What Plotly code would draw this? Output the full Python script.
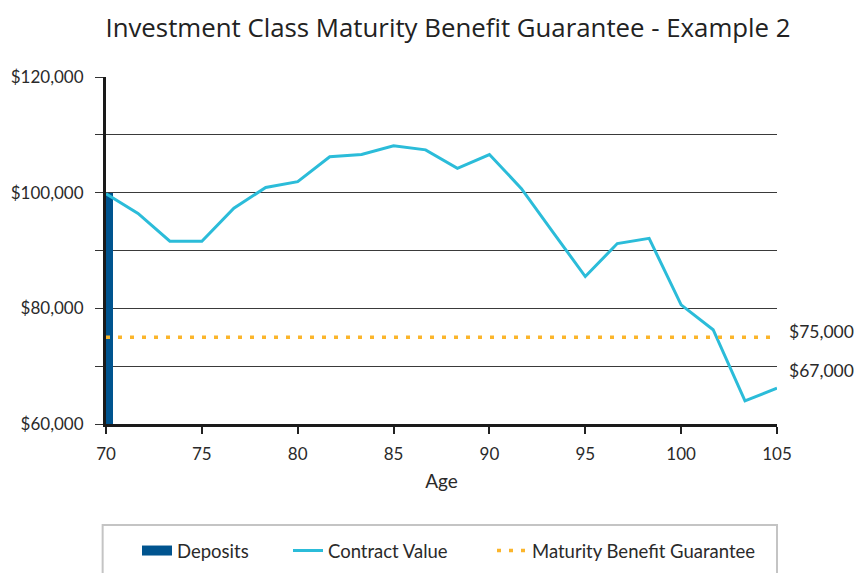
import plotly.graph_objects as go

# ---- data ----
ages = [70, 71.67, 73.33, 75, 76.67, 78.33, 80, 81.67, 83.33, 85, 86.67,
        88.33, 90, 91.67, 93.33, 95, 96.67, 98.33, 100, 101.67, 103.33, 105]
contract_value = [99800, 96400, 91600, 91600, 97300, 100900, 101900, 106200,
                  106600, 108100, 107400, 104200, 106600, 100700, 93100, 85500,
                  91200, 92100, 80600, 76300, 64000, 66200]
deposit_age = [70]
deposit_value = [100000]
guarantee_ages = [70, 105]
guarantee_value = [75000, 75000]
end_labels = ["$75,000", "$67,000"]
end_label_values = [75000, 67000]
y_tickvals = [60000, 70000, 80000, 90000, 100000, 110000, 120000]
y_ticktext = ["$60,000", "", "$80,000", "", "$100,000", "", "$120,000"]
x_tickvals = [70, 75, 80, 85, 90, 95, 100, 105]

DEP = "#00548f"
CV = "#2bbcd9"
MBG = "#fbb52b"
TXT = "#2a2a2a"

fig = go.Figure()

fig.add_trace(go.Bar(x=deposit_age, y=deposit_value, width=[0.36], offset=0,
                     marker=dict(color=DEP, line=dict(width=0)),
                     name="Deposits", showlegend=False, legendgroup="dep"))
# legend proxy for the deposits bar (wide rectangle glyph)
fig.add_trace(go.Scatter(x=[None], y=[None], mode="lines",
                         line=dict(color=DEP, width=13),
                         name="Deposits", legendgroup="dep", legend="legend"))
fig.add_trace(go.Scatter(x=ages, y=contract_value, mode="lines",
                         line=dict(color=CV, width=3),
                         name="Contract Value", legend="legend2"))
fig.add_trace(go.Scatter(x=guarantee_ages, y=guarantee_value, mode="lines",
                         line=dict(color=MBG, width=3.5, dash="4px,8px"),
                         name="Maturity Benefit Guarantee", legend="legend3"))

for lab, val, ys in zip(end_labels, end_label_values, [6, 13]):
    fig.add_annotation(x=1.015, xref="paper", y=val, yref="y", yshift=ys,
                       text=lab, showarrow=False, xanchor="left",
                       font=dict(family="Lato", size=17.5, color=TXT))

# legend frame
fig.add_shape(type="rect", xref="paper", yref="paper",
              x0=-0.005, x1=1.0, y0=-0.44, y1=-0.291,
              line=dict(color="#c4c4c4", width=2), fillcolor="rgba(0,0,0,0)")

def leg(text_left_px):
    return dict(orientation="h", x=(text_left_px - 40) / 856, xanchor="left",
                xref="container", y=1 - 551 / 573, yanchor="middle",
                yref="container", font=dict(family="Lato", size=18.5, color=TXT),
                bgcolor="rgba(0,0,0,0)", borderwidth=0)

fig.update_layout(
    width=856, height=573,
    margin=dict(l=106, r=79, t=77, b=149),
    paper_bgcolor="white", plot_bgcolor="white",
    title=dict(text="Investment Class Maturity Benefit Guarantee - Example 2",
               x=448 / 856, xanchor="center", xref="container",
               y=1 - 28 / 573, yanchor="middle", yref="container",
               font=dict(family="Open Sans", size=25.8, color="#222")),
    font=dict(family="Lato", color=TXT),
    showlegend=True,
    legend=leg(177),
    legend2=leg(328),
    legend3=leg(532),
    bargap=0,
)

fig.update_xaxes(range=[70, 105], tickvals=x_tickvals, ticks="outside", ticklen=7,
                 tickwidth=1.5, tickcolor="#222", showline=True, linewidth=3,
                 linecolor="#1a1a1a", showgrid=False, zeroline=False,
                 ticklabelstandoff=6,
                 tickfont=dict(family="Lato", size=17, color=TXT),
                 title=dict(text="Age", font=dict(family="Lato", size=19, color=TXT),
                            standoff=12))
fig.update_yaxes(range=[60000, 120000], tickvals=y_tickvals, ticktext=y_ticktext,
                 ticks="outside", ticklen=8, tickwidth=1, tickcolor="#333",
                 showline=True, linewidth=3, linecolor="#1a1a1a",
                 ticklabelstandoff=8,
                 showgrid=True, gridcolor="#3a3a3a", gridwidth=1, zeroline=False,
                 tickfont=dict(family="Lato", size=17, color=TXT))

fig.write_html("out.html", config={"displayModeBar": False},
               post_script="document.body.style.margin='0';")
